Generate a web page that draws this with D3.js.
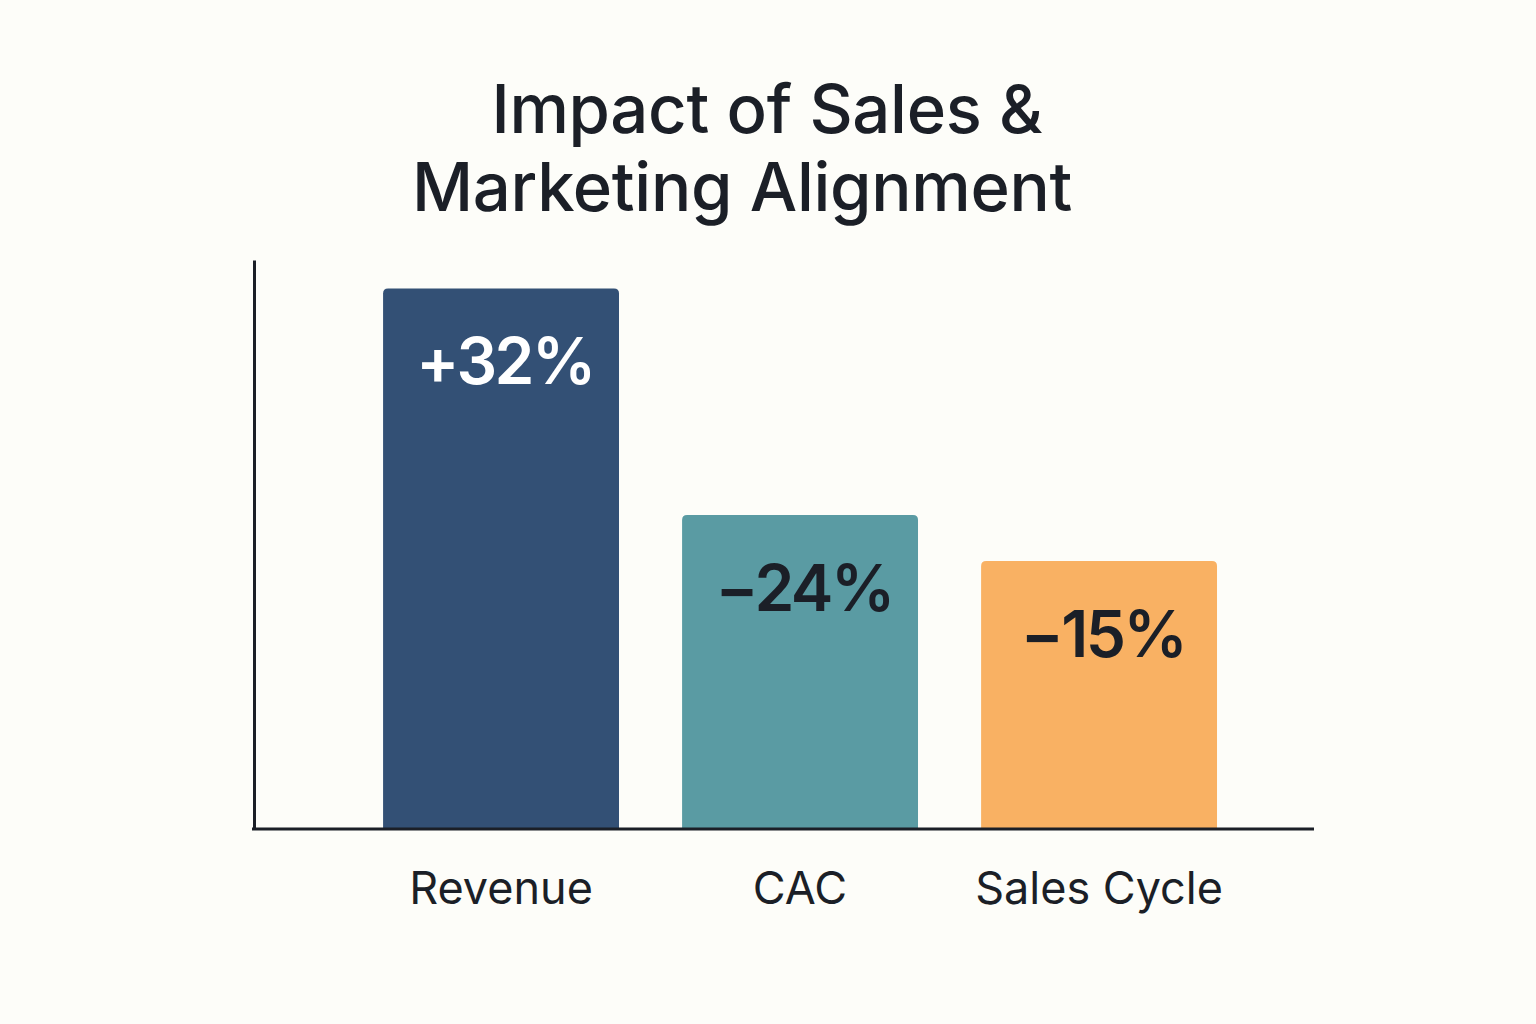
<!DOCTYPE html>
<html>
<head>
<meta charset="utf-8">
<script src="https://cdn.jsdelivr.net/npm/d3@7"></script>
<style>
  html, body { margin: 0; padding: 0; background: #fdfdf9; }
  svg { display: block; }
</style>
</head>
<body>
<svg id="chart" width="1536" height="1024"></svg>
<script>
// data
var categories = ['Revenue', 'CAC', 'Sales Cycle'];
var changeLabels = ['+32%', '\u221224%', '\u221215%'];
// bar length as drawn (0-100 along the y axis, the chart has no ticks)
var barLevel = [95, 55.2, 47.1];
var titleLines = ['Impact of Sales &', 'Marketing Alignment'];

var colors = ['#335075', '#5a9ba3', '#f9b163'];
var labelColors = ['#ffffff', '#1b1f27', '#1b1f27'];

var svg = d3.select('#chart');
var font = 'Inter, "Noto Sans", sans-serif';

var x = d3.scaleBand()
  .domain(categories)
  .range([254, 1314])
  .paddingInner(0.211)
  .paddingOuter(0.378)
  .align(0.571);

var y = d3.scaleLinear()
  .domain([0, 100])
  .range([829, 260]);

// title
var titleX = [767, 742];
svg.selectAll('.title')
  .data(titleLines)
  .enter().append('text')
  .attr('class', 'title')
  .attr('x', function(d, i){ return titleX[i]; })
  .attr('y', function(d, i){ return 133 + i * 78; })
  .attr('text-anchor', 'middle')
  .style('font-family', font)
  .style('font-size', '67px')
  .style('font-weight', 500)
  .style('letter-spacing', '-0.3px')
  .style('fill', '#1b1f27')
  .text(function(d){ return d; });

// bars with rounded top corners
function topRounded(x0, y0, w, h, r){
  return 'M' + x0 + ',' + (y0 + h) +
    'V' + (y0 + r) +
    'Q' + x0 + ',' + y0 + ' ' + (x0 + r) + ',' + y0 +
    'H' + (x0 + w - r) +
    'Q' + (x0 + w) + ',' + y0 + ' ' + (x0 + w) + ',' + (y0 + r) +
    'V' + (y0 + h) + 'Z';
}

var bars = svg.append('g').attr('class', 'bars');
bars.selectAll('path')
  .data(categories)
  .enter().append('path')
  .attr('d', function(d, i){
    return topRounded(x(d), y(barLevel[i]), x.bandwidth(), y(0) - y(barLevel[i]), 5);
  })
  .style('fill', function(d, i){ return colors[i]; });

// value labels inside bars
bars.selectAll('text')
  .data(categories)
  .enter().append('text')
  .attr('x', function(d){ return x(d) + x.bandwidth() / 2 + 4; })
  .attr('y', function(d, i){ return y(barLevel[i]) + 96; })
  .attr('text-anchor', 'middle')
  .style('font-family', font)
  .style('font-size', '64px')
  .style('font-weight', 600)
  .style('letter-spacing', '-2.5px')
  .style('fill', function(d, i){ return labelColors[i]; })
  .text(function(d, i){ return changeLabels[i]; });

// axes
var xAxis = svg.append('g')
  .attr('transform', 'translate(0,' + y(0) + ')')
  .call(d3.axisBottom(x).tickSize(0).tickPadding(43));
xAxis.select('.domain')
  .attr('d', 'M252,0H1314')
  .style('stroke', '#1b1f27')
  .style('stroke-width', 3);
xAxis.selectAll('.tick text')
  .attr('dx', 0)
  .style('font-family', font)
  .style('font-size', '45px')
  .style('font-weight', 400)
  .style('fill', '#1b1f27');

var yAxis = svg.append('g')
  .attr('transform', 'translate(254,0)')
  .call(d3.axisLeft(y).tickValues([]).tickSizeOuter(0));
yAxis.select('.domain')
  .style('stroke', '#1b1f27')
  .style('stroke-width', 3);
</script>
</body>
</html>
